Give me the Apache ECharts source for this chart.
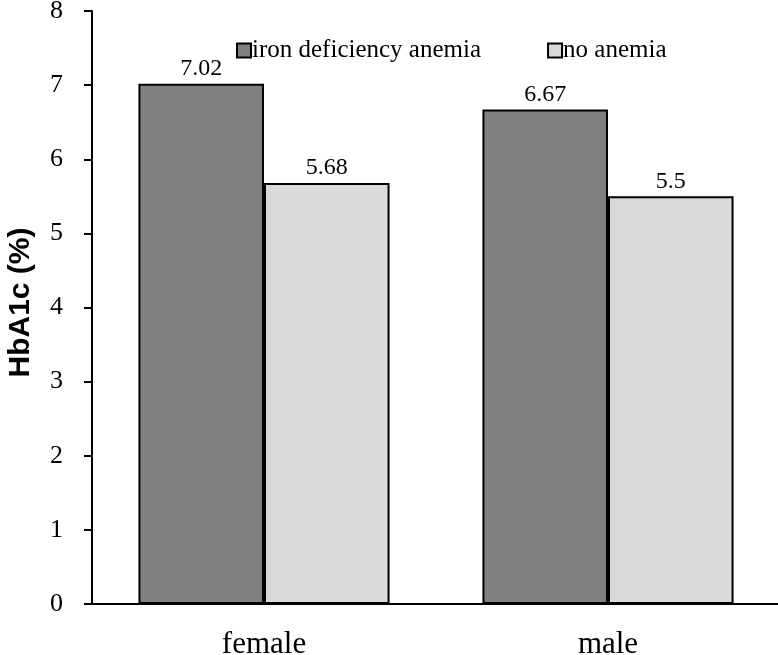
<!DOCTYPE html>
<html><head><meta charset="utf-8">
<script src="https://cdn.jsdelivr.net/npm/echarts@6/dist/echarts.min.js"></script>
<style>html,body{margin:0;padding:0;background:#fff}#c{width:778px;height:655px}</style>
</head><body><div id="c"></div>
<script>
var categories = ['female', 'male'];
var seriesNames = ['iron deficiency anemia', 'no anemia'];
var ida = [7.02, 6.67];
var noAnemia = [5.68, 5.5];
var yTicks = [0, 1, 2, 3, 4, 5, 6, 7, 8];

var chart = echarts.init(document.getElementById('c'));
var serif = '"Liberation Serif", "Times New Roman", serif';
var lbl = {show: true, position: 'top', distance: 3, color: '#000', fontFamily: serif, fontSize: 24, formatter: function(p){return String(p.value);}};
chart.setOption({
  animation: false,
  grid: {left: 92, top: 11, width: 688, bottom: 51, containLabel: false, outerBoundsMode: 'none'},
  legend: {
    top: 33, left: 231, itemGap: 66, itemWidth: 14, itemHeight: 14,
    icon: 'rect',
    textStyle: {fontFamily: serif, fontSize: 25, color: '#000', padding: [0, 0, 0, -4]},
    itemStyle: {borderColor: '#000', borderWidth: 2},
    data: seriesNames
  },
  xAxis: {
    type: 'category', data: categories,
    axisLine: {lineStyle: {color: '#000', width: 2}},
    axisTick: {show: false},
    axisLabel: {fontFamily: serif, fontSize: 31, color: '#000', margin: 25}
  },
  yAxis: {
    type: 'value', min: yTicks[0], max: yTicks[yTicks.length - 1], interval: 1,
    name: 'HbA1c (%)', nameLocation: 'middle', nameGap: 56,
    nameTextStyle: {fontFamily: '"Liberation Sans", Arial, sans-serif', fontWeight: 'bold', fontSize: 30, color: '#000', padding: [0, 0, 0, 10]},
    axisLine: {show: true, lineStyle: {color: '#000', width: 2}},
    axisTick: {show: true, length: 8, lineStyle: {color: '#000', width: 2}},
    splitLine: {show: false},
    axisLabel: {fontFamily: serif, fontSize: 26, color: '#000', margin: 29}
  },
  series: [
    {name: seriesNames[0], type: 'bar', data: ida, barGap: '0%', barCategoryGap: '27%',
     itemStyle: {color: '#808080', borderColor: '#000', borderWidth: 2}, label: lbl},
    {name: seriesNames[1], type: 'bar', data: noAnemia,
     itemStyle: {color: '#d9d9d9', borderColor: '#000', borderWidth: 2}, label: lbl}
  ]
});
</script></body></html>
